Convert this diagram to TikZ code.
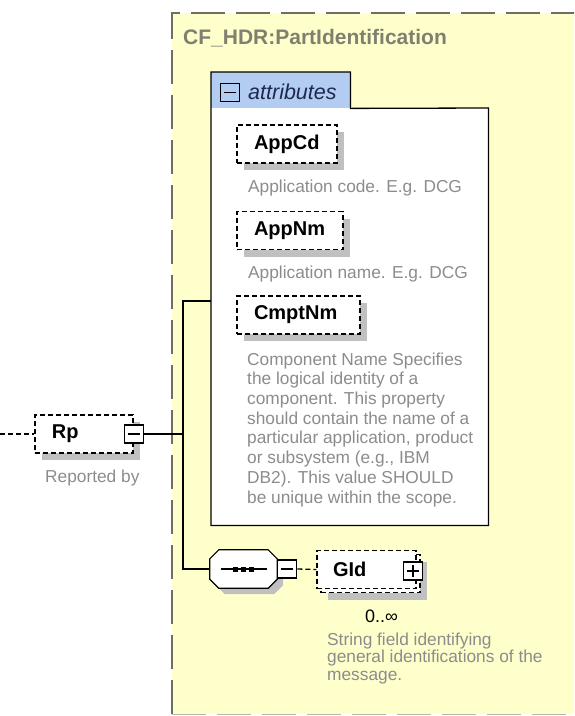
\documentclass[tikz,border=0pt]{standalone}
\usepackage{fontspec}
\setmainfont{Liberation Sans}
\usetikzlibrary{positioning, shadows}

\definecolor{boxyellow}{RGB}{255,255,204}
\definecolor{tabblue}{RGB}{178,204,242}
\definecolor{descgray}{RGB}{140,140,140}
\definecolor{titlegray}{RGB}{128,128,112}
\definecolor{shadowgray}{RGB}{192,192,192}
\definecolor{bordergray}{RGB}{110,110,100}
\definecolor{tabtext}{RGB}{30,40,80}

\newcommand\elfont{\fontsize{20pt}{24pt}\selectfont\bfseries}
\newcommand\descfont{\fontsize{17.3pt}{19.7pt}\selectfont}
\newcommand\seqpath{([xshift=9pt]seq.north west) -- ([xshift=-9pt]seq.north east) -- ([yshift=-9pt]seq.north east)
  -- ([yshift=9pt]seq.south east) -- ([xshift=-9pt]seq.south east) -- ([xshift=9pt]seq.south west)
  -- ([yshift=9pt]seq.south west) -- ([yshift=-9pt]seq.north west) -- cycle}

\begin{document}
\begin{tikzpicture}[x=1pt, y=-1pt,
  elembox/.style={draw, dash pattern=on 5pt off 3pt, line width=1.2pt, fill=white,
    minimum height=38pt, inner xsep=17pt, inner ysep=0pt, align=left, font=\elfont},
  elem/.style={elembox, drop shadow={shadow xshift=7pt, shadow yshift=-7pt, fill=shadowgray, opacity=1}},
  desc/.style={inner sep=0pt, anchor=base west, align=left, font=\descfont, text=descgray},
  togglebox/.style={draw, fill=white, line width=1.2pt, minimum width=19pt, minimum height=18pt, inner sep=0pt},
  minus/.style={togglebox, path picture={
    \draw[line width=1.1pt] ([xshift=-6pt]path picture bounding box.center) -- ([xshift=6pt]path picture bounding box.center);}},
  plus/.style={togglebox, path picture={
    \draw[line width=1.1pt] ([xshift=-6pt]path picture bounding box.center) -- ([xshift=6pt]path picture bounding box.center);
    \draw[line width=1.1pt] ([yshift=-6pt]path picture bounding box.center) -- ([yshift=6pt]path picture bounding box.center);}},
  wire/.style={line width=1.3pt},
]
\useasboundingbox (0,0) rectangle (574,716);
\clip (0,0) rectangle (574,716);

% complex type area
\fill[boxyellow] (172,13) rectangle (600,714);
\draw[bordergray, line width=1.3pt, dash pattern=on 34pt off 11pt] (172,714) -- (172,13) -- (600,13);
\draw[bordergray!50, line width=1pt, dash pattern=on 34pt off 11pt] (172,714) -- (600,714);
\node[anchor=base west, inner sep=0pt, font=\fontsize{21pt}{25pt}\selectfont\bfseries, text=titlegray] (title) at (183,44.5) {CF\_HDR:PartIdentification};

% attributes
\node[anchor=north west, minimum width=277pt, minimum height=417pt, fill=white, inner sep=0pt] (attr) at (211,108) {};
\node[anchor=north west, minimum width=139pt, minimum height=36pt, fill=tabblue, inner sep=0pt] (attrTab) at (211,72) {};
\draw[line width=1.3pt] (attr.south west) -- (attrTab.north west) -- (attrTab.north east)
  -- (attrTab.south east) -- (attr.north east) -- (attr.south east) -- cycle;
\node[minus, fill=tabblue] (attrMinus) at (230,92.5) {};
\node[anchor=base west, inner sep=0pt, font=\fontsize{21.5pt}{24pt}\selectfont\itshape, text=tabtext] (attrLabel) at (248,99) {attributes};

\node[elem, text width=66pt] (AppCd) at (287,144) {AppCd};
\node[desc] (AppCdDesc) at (248,192) {Application code. E.g. DCG};
\node[elem, text width=72pt] (AppNm) at (290,230.5) {AppNm};
\node[desc] (AppNmDesc) at (248,278) {Application name. E.g. DCG};
\node[elem, text width=89pt] (CmptNm) at (298.5,315) {CmptNm};
\node[desc] (CmptNmDesc) at (247,503) {Component Name Specifies\\the logical identity of a\\component. This property\\should contain the name of a\\particular application, product\\or subsystem (e.g., IBM\\DB2). This value SHOULD\\be unique within the scope.};

% root element
\coordinate (in) at (0,434);
\node[elem, text width=64pt] (Rp) at (84,434) {Rp};
\node[minus] (RpMinus) at (Rp.east) {};
\node[desc] (RpDesc) at (45,482) {Reported by};
\draw[wire, dash pattern=on 5pt off 3pt] (in) -- (Rp.west);

% sequence
\node[minimum width=67pt, minimum height=38pt, inner sep=0pt] (seq) at (243.5,569) {};
\fill[shadowgray, transform canvas={shift={(6pt,-6pt)}}] \seqpath;
\draw[line width=1.2pt, fill=white] \seqpath;
\draw[wire] ([xshift=-23pt]seq.center) -- ([xshift=23pt]seq.center);
\foreach \dx in {-8,0,8}
  \fill ([xshift=\dx pt]seq.center) +(-2.5,-2.5) rectangle +(2.5,2.5);
\node[minus, anchor=west] (seqMinus) at (seq.east) {};

\node[elem, inner xsep=16pt, text width=67pt] (GIdBack) at (370.5,573.5) {};
\node[elembox, inner xsep=16pt, text width=67pt] (GId) at (366.5,569.5) {GId};
\node[plus] (GIdPlus) at (413,571) {};
\node[anchor=base west, inner sep=0pt, font=\fontsize{18pt}{20pt}\selectfont] (GIdOcc) at (365,622) {0..∞};
\node[desc, font=\fontsize{17.3pt}{17.7pt}\selectfont] (GIdDesc) at (327,680.4) {String field identifying\\general identifications of the\\message.};

% connectors
\coordinate (jTop) at (183,301);
\coordinate (jBot) at (183,569);
\draw[wire] (RpMinus.east) -- (RpMinus.east -| jTop);
\draw[wire] (attr.west |- jTop) -- (jTop) -- (jBot) -- (seq.west);
\draw[wire, dash pattern=on 5pt off 3pt] (seqMinus.east) -- (GId.west);
\end{tikzpicture}
\end{document}
